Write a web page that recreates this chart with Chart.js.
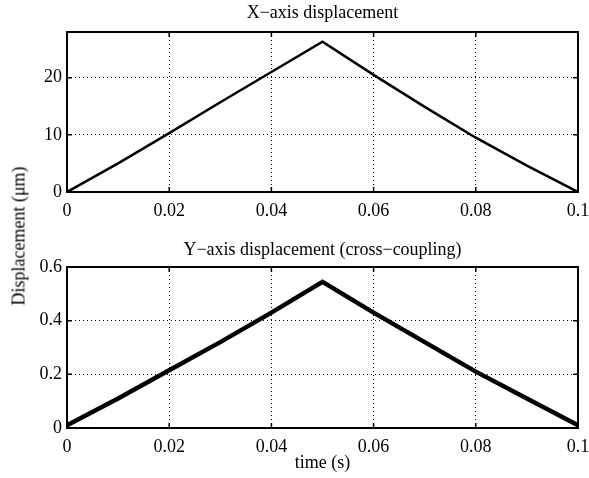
<!DOCTYPE html>
<html>
<head>
<meta charset="utf-8">
<script src="https://cdn.jsdelivr.net/npm/chart.js@4/dist/chart.umd.min.js"></script>
<style>
  body { margin: 0; background: #fff; }
  #wrap { position: relative; width: 589px; height: 478px; background: #fff; }
  #top, #bottom { position: absolute; left: 0; }
  #top { top: 0; }
  #bottom { top: 235px; }
  #ylab {
    position: absolute; left: 19px; top: 236px;
    transform: translate(-50%, -50%) rotate(-90deg);
    font: 18px "Liberation Serif", serif; color: #000; white-space: nowrap;
  }
</style>
</head>
<body>
<div id="wrap">
  <canvas id="top" width="589" height="225"></canvas>
  <canvas id="bottom" width="589" height="243"></canvas>
  <div id="ylab">Displacement (μm)</div>
</div>
<script>
// time samples (s) and measured displacements (um)
var time = [0, 0.01, 0.02, 0.03, 0.04, 0.05, 0.06, 0.07, 0.08, 0.09, 0.1];
var xDisp = [0, 5.0, 10.3, 15.7, 21.0, 26.3, 20.5, 14.9, 9.5, 4.6, 0];
var yDisp = [0.01, 0.11, 0.215, 0.32, 0.43, 0.545, 0.43, 0.32, 0.21, 0.11, 0.01];

var xTicks = [0, 0.02, 0.04, 0.06, 0.08, 0.1];
var yTicksTop = [0, 10, 20];
var yTicksBottom = [0, 0.2, 0.4, 0.6];

var serif = '"Liberation Serif", "Times New Roman", serif';

// matlab-ish box with inward tick marks, title centred over the axes
var boxPlugin = {
  id: 'box',
  afterDraw: function (chart) {
    var ctx = chart.ctx, a = chart.chartArea;
    var sx = chart.scales.x, sy = chart.scales.y;
    var o = chart.options.plugins.box;
    ctx.save();
    ctx.strokeStyle = '#000';
    ctx.lineWidth = 1.5;
    sx.ticks.forEach(function (t) {
      var p = sx.getPixelForValue(t.value);
      ctx.beginPath();
      ctx.moveTo(p, a.bottom); ctx.lineTo(p, a.bottom - 5);
      ctx.moveTo(p, a.top); ctx.lineTo(p, a.top + 5);
      ctx.stroke();
    });
    sy.ticks.forEach(function (t) {
      var p = sy.getPixelForValue(t.value);
      ctx.beginPath();
      ctx.moveTo(a.left, p); ctx.lineTo(a.left + 5, p);
      ctx.moveTo(a.right, p); ctx.lineTo(a.right - 5, p);
      ctx.stroke();
    });
    ctx.lineWidth = 2;
    ctx.strokeRect(a.left, a.top, a.right - a.left, a.bottom - a.top);

    ctx.fillStyle = '#000';
    ctx.font = '18px ' + serif;
    ctx.textAlign = 'center';
    ctx.textBaseline = 'middle';
    ctx.fillText(o.text, (a.left + a.right) / 2, o.y);
    ctx.restore();
  }
};

function makePlot(id, title, titleY, ys, yMax, yTicks, lineW, xAxisH, xTitle) {
  var pts = time.map(function (t, i) { return { x: t, y: ys[i] }; });
  return new Chart(id, {
    type: 'line',
    data: {
      datasets: [{
        data: pts,
        borderColor: '#000',
        borderWidth: lineW,
        pointRadius: 0,
        tension: 0,
        fill: false
      }]
    },
    options: {
      responsive: false,
      animation: false,
      layout: { padding: { left: 0, right: 11, top: 32, bottom: 0 } },
      plugins: {
        legend: { display: false },
        tooltip: { enabled: false },
        title: { display: false },
        box: { text: title, y: titleY }
      },
      scales: {
        x: {
          type: 'linear',
          min: 0,
          max: 0.1,
          afterBuildTicks: function (s) { s.ticks = xTicks.map(function (v) { return { value: v }; }); },
          afterFit: function (s) { s.height = xAxisH; s.paddingLeft = 0; s.paddingRight = 0; },
          ticks: {
            color: '#000',
            padding: 8,
            maxRotation: 0,
            autoSkip: false,
            font: { family: serif, size: 18 },
            callback: function (v) { return String(v); }
          },
          grid: { color: '#000', lineWidth: 1, drawTicks: false },
          border: { display: false, dash: [1, 3] },
          title: {
            display: !!xTitle,
            text: xTitle || '',
            color: '#000',
            font: { family: serif, size: 18 },
            padding: { top: 0, bottom: 4 }
          }
        },
        y: {
          min: 0,
          max: yMax,
          afterBuildTicks: function (s) { s.ticks = yTicks.map(function (v) { return { value: v }; }); },
          afterFit: function (s) { s.width = 67; s.paddingTop = 0; s.paddingBottom = 0; },
          ticks: {
            color: '#000',
            padding: 5,
            autoSkip: false,
            font: { family: serif, size: 18 },
            callback: function (v) { return String(v); }
          },
          grid: { color: '#000', lineWidth: 1, drawTicks: false },
          border: { display: false, dash: [1, 3] }
        }
      }
    },
    plugins: [boxPlugin]
  });
}

makePlot('top', 'X\u2212axis displacement', 13, xDisp, 28, yTicksTop, 2.5, 33, null);
makePlot('bottom', 'Y\u2212axis displacement (cross\u2212coupling)', 15, yDisp, 0.6, yTicksBottom, 4.5, 50, 'time (s)');
</script>
</body>
</html>
